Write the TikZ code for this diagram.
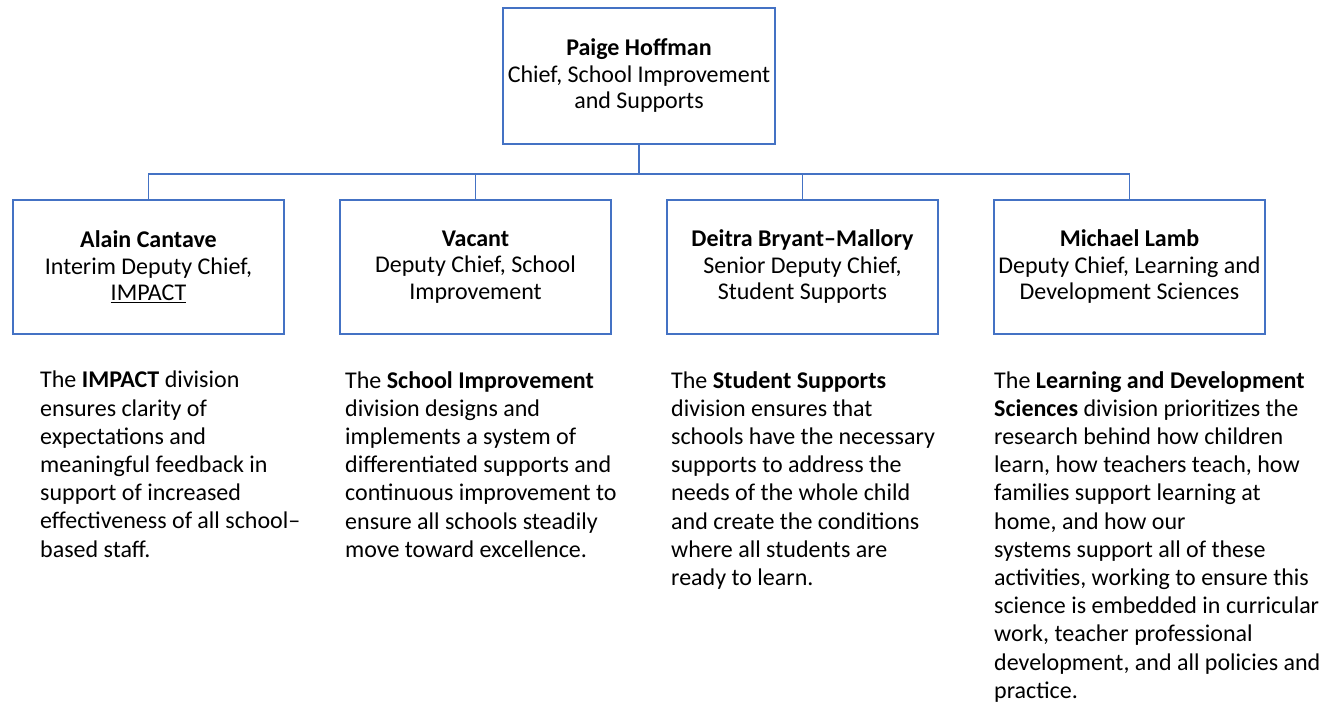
\documentclass[tikz,border=0pt]{standalone}
\usepackage{fontspec}
\setmainfont{Carlito}
\begin{document}
\begin{tikzpicture}[x=1pt,y=-1pt,
  box/.style={draw=boxblue,line width=1.6pt,minimum width=271pt,minimum height=134pt,inner sep=0pt,align=center,font=\fontsize{24}{26.5}\selectfont},
  conn/.style={draw=boxblue,line width=1.6pt},
  desc/.style={anchor=north west,inner sep=0pt,align=left,font=\fontsize{24}{28.2}\selectfont}]
\definecolor{boxblue}{HTML}{4472C4}
\useasboundingbox (0,0) rectangle (1325,711);
\node[box,minimum width=272pt,minimum height=136pt] (top) at (639,76) {\textbf{Paige Hoffman}\\Chief, School Improvement\\and Supports};
\node[box] (c1) at (148.5,267) {\textbf{Alain Cantave}\\Interim Deputy Chief,\\\underline{IMPACT}};
\node[box] (c2) at (475.5,267) {\textbf{Vacant}\\Deputy Chief, School\\Improvement};
\node[box] (c3) at (802.5,267) {\textbf{Deitra Bryant–Mallory}\\Senior Deputy Chief,\\Student Supports};
\node[box] (c4) at (1129.5,267) {\textbf{Michael Lamb}\\Deputy Chief, Learning and\\Development Sciences};
\foreach \c in {c1,c2,c3,c4}{\draw[conn] (top.south) -- ++(0,29) -| (\c.north);}
\node[desc] (d1) at (40,371) {The \textbf{IMPACT} division\\ensures clarity of\\expectations and\\meaningful feedback in\\support of increased\\effectiveness of all school–\\based staff.};
\node[desc] (d2) at (345,371) {The \textbf{School Improvement}\\division designs and\\implements a system of\\differentiated supports and\\continuous improvement to\\ensure all schools steadily\\move toward excellence.};
\node[desc] (d3) at (671,371) {The \textbf{Student Supports}\\division ensures that\\schools have the necessary\\supports to address the\\needs of the whole child\\and create the conditions\\where all students are\\ready to learn.};
\node[desc] (d4) at (994,371) {The \textbf{Learning and Development}\\\textbf{Sciences} division prioritizes the\\research behind how children\\learn, how teachers teach, how\\families support learning at\\home, and how our\\systems support all of these\\activities, working to ensure this\\science is embedded in curricular\\work, teacher professional\\development, and all policies and\\practice.};
\end{tikzpicture}
\end{document}
